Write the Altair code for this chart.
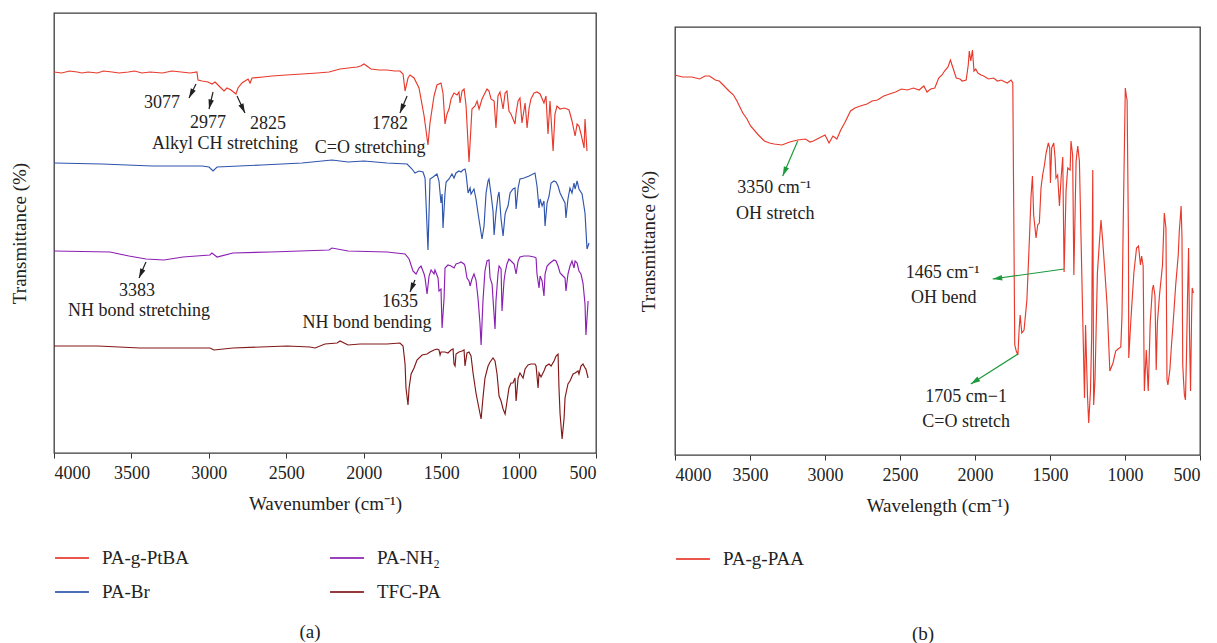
import math
import altair as alt
import pandas as pd

FONT = "Liberation Serif"
RED = "#e8392b"
BLUE = "#2f54ad"
PURPLE = "#8c1fb3"
MAROON = "#821818"
GREEN = "#1d9a3c"
INK = "#222222"

TICKS = [4000, 3500, 3000, 2500, 2000, 1500, 1000, 500]

# ---- spectra: (wavenumber cm-1, offset transmittance a.u.) ----
ptba = [(4000,381),(3950,380),(3900,382),(3850,381),(3819,380),(3780,381),(3720,380),(3680,382),
        (3625,381),(3580,380),(3520,381),(3480,382),(3432,380),(3380,381),(3300,380),(3238,382),
        (3180,381),(3120,380),(3077,381),(3070,373),(3044,372),(3005,371),(2980,369),(2960,371),
        (2928,366),(2902,362),(2883,365),(2857,363),(2825,359),(2812,365),(2786,370),(2747,374),
        (2734,370),(2721,375),(2650,376),(2592,377),(2500,378),(2398,379),(2300,380),(2224,381),
        (2153,384),(2100,385),(2043,386),(2020,387),(1998,389),(1953,384),(1900,383),(1850,383),
        (1800,382),(1766,382),(1746,379),(1733,362),(1714,375),(1701,378),(1675,375),(1643,365),
        (1610,337),(1585,308),(1572,330),(1546,357),(1527,368),(1501,370),(1488,360),(1475,329),
        (1462,339),(1449,344),(1436,354),(1417,360),(1397,358),(1385,361),(1378,350),(1365,362),
        (1352,364),(1339,347),(1320,291),(1307,327),(1301,344),(1281,347),(1268,352),(1255,344),
        (1236,354),(1204,364),(1191,362),(1178,354),(1158,352),(1146,325),(1133,357),(1120,361),
        (1100,344),(1087,360),(1075,362),(1062,342),(1049,339),(1036,334),(1023,329),(1016,340),
        (1003,352),(991,355),(978,330),(958,350),(945,325),(932,345),(920,354),(900,360),(881,361),
        (861,359),(836,350),(823,357),(810,319),(797,352),(777,302),(765,339),(752,347),(732,344),
        (706,345),(687,344),(674,343),(655,332),(635,317),(622,329),(610,327),(597,319),(577,305),
        (571,334),(558,302)]

pabr = [(4000,290),(3690,289),(3367,287),(3044,287),(2999,286),(2973,282),(2947,286),(2657,288),
        (2398,290),(2205,293),(2101,291),(1998,292),(1850,290),(1720,289),(1688,284),(1669,280),
        (1643,282),(1617,281),(1604,275),(1585,203),(1572,274),(1552,276),(1527,279),(1514,272),
        (1501,250),(1494,259),(1488,225),(1475,260),(1468,271),(1449,274),(1430,279),(1417,275),
        (1404,280),(1385,282),(1372,281),(1359,283),(1346,284),(1339,279),(1326,260),(1313,265),
        (1307,259),(1288,264),(1275,254),(1262,240),(1249,227),(1236,214),(1223,227),(1210,260),
        (1197,272),(1191,274),(1178,259),(1165,242),(1158,218),(1146,240),(1133,257),(1126,261),
        (1113,234),(1100,217),(1087,239),(1081,242),(1068,247),(1055,260),(1036,264),(1023,265),
        (1016,244),(1003,265),(991,274),(965,275),(932,277),(894,280),(881,267),(868,245),(861,254),
        (848,247),(836,252),(829,227),(816,250),(803,257),(790,270),(771,272),(758,271),(745,267),
        (732,260),(713,254),(700,250),(694,235),(681,254),(668,265),(655,260),(642,270),(635,264),
        (622,272),(610,264),(590,259),(571,240),(558,204),(545,210)]

panh2 = [(4000,202),(3638,201),(3516,197),(3406,194),(3290,193),(3167,196),(2993,198),(2980,200),
         (2947,196),(2844,200),(2599,201),(2224,203),(2205,205),(2101,202),(1850,201),(1733,199),
         (1707,194),(1682,182),(1662,179),(1643,185),(1630,187),(1610,179),(1604,175),(1591,159),
         (1578,177),(1565,183),(1546,179),(1540,183),(1520,175),(1514,162),(1501,164),(1494,125),
         (1481,155),(1475,185),(1456,188),(1436,187),(1417,185),(1404,189),(1385,190),(1372,191),
         (1352,189),(1346,187),(1333,175),(1320,172),(1313,167),(1301,174),(1288,179),(1275,173),
         (1262,155),(1249,129),(1242,108),(1230,152),(1217,182),(1204,192),(1191,193),(1184,175),
         (1171,169),(1165,154),(1152,124),(1146,152),(1133,179),(1126,187),(1113,184),(1107,142),
         (1094,172),(1087,180),(1075,189),(1062,194),(1042,191),(1029,189),(1016,179),(1003,192),
         (991,196),(965,197),(932,197),(900,196),(887,195),(881,179),(868,165),(861,177),(848,172),
         (836,157),(829,179),(816,187),(797,190),(771,193),(758,192),(745,187),(732,180),(713,177),
         (700,175),(694,162),(681,179),(668,187),(655,192),(642,185),(635,192),(622,190),(610,182),
         (597,179),(584,170),(571,149),(565,118),(551,152)]

tfcpa = [(4000,107),(3716,107),(3445,105),(2993,105),(2967,103),(2844,105),(2495,107),(2347,106),
         (2314,105),(2250,109),(2172,110),(2153,112),(2101,108),(2024,109),(1850,109),(1766,110),
         (1746,107),(1733,89),(1727,65),(1714,48),(1707,65),(1694,79),(1675,85),(1656,93),(1623,98),
         (1591,99),(1572,101),(1546,103),(1527,104),(1514,103),(1507,98),(1501,101),(1475,101),
         (1456,100),(1436,103),(1423,104),(1417,89),(1410,87),(1404,99),(1385,101),(1365,102),
         (1352,103),(1346,87),(1333,100),(1320,101),(1307,97),(1294,80),(1275,60),(1255,44),
         (1242,34),(1230,55),(1217,75),(1197,87),(1184,91),(1165,95),(1152,92),(1139,79),(1126,57),
         (1113,52),(1100,44),(1087,39),(1081,45),(1062,65),(1049,70),(1036,70),(1023,75),(1016,52),
         (1003,75),(991,80),(971,75),(958,84),(939,88),(920,89),(894,89),(887,87),(874,65),(868,80),
         (855,76),(836,82),(823,87),(803,89),(790,87),(771,92),(758,97),(745,99),(739,65),(732,39),
         (719,14),(706,35),(700,55),(681,69),(668,72),(648,79),(635,80),(616,82),(610,79),(597,87),
         (584,89),(571,85),(565,84),(551,75)]

paa = [(4000,380),(3950,378),(3888,378),(3835,376),(3800,379),(3770,379),(3731,375),(3705,374),
       (3679,370),(3640,364),(3610,360),(3587,354),(3548,342),(3520,336),(3496,329),(3444,320),
       (3404,314),(3370,312),(3339,311),(3287,310),(3235,313),(3182,315),(3130,316),(3100,313),
       (3078,314),(3039,317),(3000,320),(2973,312),(2947,319),(2921,316),(2895,325),(2869,332),
       (2830,344),(2800,347),(2765,349),(2720,351),(2686,354),(2650,355),(2608,359),(2570,361),
       (2529,363),(2490,366),(2451,365),(2410,367),(2373,365),(2341,369),(2320,363),(2295,366),
       (2268,367),(2242,377),(2220,380),(2203,384),(2180,388),(2164,395),(2151,389),(2125,377),
       (2100,376),(2085,374),(2059,375),(2045,390),(2038,404),(2028,394),(2017,405),(2007,384),
       (1995,386),(1981,382),(1960,380),(1942,379),(1910,376),(1876,377),(1850,374),(1824,375),
       (1800,373),(1785,372),(1759,375),(1748,372),(1742,250),(1735,110),(1725,104),(1714,100),
       (1706,125),(1699,140),(1688,122),(1673,125),(1654,155),(1637,217),(1626,260),(1617,279),
       (1609,240),(1593,217),(1582,230),(1571,232),(1560,267),(1549,280),(1537,290),(1526,302),
       (1511,312),(1502,307),(1497,272),(1489,307),(1475,312),(1466,297),(1460,277),(1449,280),
       (1437,249),(1426,277),(1415,298),(1406,183),(1393,264),(1382,287),(1366,285),(1360,314),
       (1349,300),(1341,180),(1326,294),(1315,309),(1304,294),(1295,230),(1281,132),(1270,57),
       (1263,130),(1250,59),(1242,32),(1230,65),(1222,120),(1215,285),(1209,50),(1200,75),
       (1184,182),(1171,212),(1160,235),(1149,215),(1135,185),(1119,149),(1101,84),(1080,92),
       (1062,104),(1046,106),(1028,108),(1020,139),(1012,230),(998,367),(990,358),(986,355),
       (977,217),(975,97),(962,132),(941,182),(923,207),(910,209),(897,190),(889,199),(879,189),
       (871,64),(858,105),(845,64),(832,132),(818,165),(811,170),(800,159),(792,85),(784,132),
       (770,160),(750,190),(738,242),(727,227),(720,75),(714,70),(701,85),(690,110),(680,130),
       (662,170),(645,200),(638,224),(630,240),(626,249),(620,217),(615,90),(610,75),(604,60),
       (597,55),(590,100),(584,152),(576,207),(570,122),(563,64),(556,140),(552,167),(544,162)]

# ---- annotations ----
left_labels = ["3077", "2977", "2825", "Alkyl CH stretching", "1782", "C=O stretching",
               "3383", "NH bond stretching", "1635", "NH bond bending"]
left_label_wn = [3303, 3005, 2618, 2896, 1830, 1959, 3464, 3451, 1766, 1979]
left_label_t = [350, 330, 329, 309, 329, 305, 162, 142, 151, 130]
# arrows: tail (wn, t) -> head (wn, t)
left_arrows = [(3083, 369, 3128, 355), (2973, 361, 2999, 344), (2818, 357, 2767, 340),
               (1720, 357, 1766, 340), (3406, 191, 3451, 175), (1669, 173, 1701, 161)]

right_labels = ["3350 cm⁻¹", "OH stretch", "1465 cm⁻¹", "OH bend", "1705 cm−1", "C=O stretch"]
right_label_wn = [3339, 3331, 2216, 2208, 2059, 2059]
right_label_t = [267, 241, 182, 157, 58, 33]
right_arrows = [(3182, 314, 3282, 279), (1406, 186, 1882, 176), (1714, 101, 2028, 71)]

SERIES_LEFT = ["PA-g-PtBA", "PA-Br", "PA-NH₂", "TFC-PA"]
COLORS_LEFT = [RED, BLUE, PURPLE, MAROON]

LW, LH = 542, 440
RW, RH = 525, 428
HEAD = "M0,0L-0.55,1.9L0.55,1.9Z"


def to_df(name, pairs):
    return pd.DataFrame({"wn": [p[0] for p in pairs], "t": [p[1] for p in pairs], "series": name})


def arrow_df(arrows, width, height, ymax):
    rows = []
    for w1, t1, w2, t2 in arrows:
        dx = -(w2 - w1) * width / 3500.0
        dy = -(t2 - t1) * height / ymax
        ang = math.degrees(math.atan2(dx, -dy)) % 360
        rows.append({"w1": w1, "t1": t1, "w2": w2, "t2": t2, "ang": ang})
    return pd.DataFrame(rows)


def xenc(field, title):
    return alt.X(f"{field}:Q",
                 scale=alt.Scale(domain=[500, 4000], reverse=True, nice=False, zero=False),
                 axis=alt.Axis(values=TICKS, format="d", title=title))


def yenc(field, ymax, pad):
    return alt.Y(f"{field}:Q", scale=alt.Scale(domain=[0, ymax], nice=False, zero=False),
                 axis=alt.Axis(labels=False, ticks=False, title="Transmittance (%)", titlePadding=pad))


def panel(df, color, xtitle, width, height, ymax, ypad, labels, lwn, lt, arrows, acolor,
          caption, cap_x, cap_y):
    lines = alt.Chart(df).mark_line(strokeWidth=1.15).encode(
        x=xenc("wn", xtitle), y=yenc("t", ymax, ypad), color=color)
    adf = arrow_df(arrows, width, height, ymax)
    rules = alt.Chart(adf).mark_rule(color=acolor, strokeWidth=1.2).encode(
        x=xenc("w1", xtitle), x2="w2:Q", y=yenc("t1", ymax, ypad), y2="t2:Q")
    heads = alt.Chart(adf).mark_point(shape=HEAD, filled=True, size=100, color=acolor,
                                      opacity=1, strokeWidth=0).encode(
        x=xenc("w2", xtitle), y=yenc("t2", ymax, ypad), angle=alt.Angle("ang:Q", scale=None))
    tdf = pd.DataFrame({"label": labels, "wn": lwn, "t": lt})
    texts = alt.Chart(tdf).mark_text(font=FONT, fontSize=18, color=INK, align="center",
                                     baseline="middle").encode(
        x=xenc("wn", xtitle), y=yenc("t", ymax, ypad), text="label:N")
    cap = alt.Chart(alt.Data(values=[{"label": caption}])).mark_text(
        font=FONT, fontSize=19, color=INK, align="center", baseline="middle").encode(
        x=alt.value(cap_x), y=alt.value(cap_y), text="label:N")
    return [lines, rules, heads, texts, cap]


left_df = pd.concat([to_df("PA-g-PtBA", ptba), to_df("PA-Br", pabr),
                     to_df("PA-NH₂", panh2), to_df("TFC-PA", tfcpa)])
right_df = to_df("PA-g-PAA", paa)

left_color = alt.Color("series:N", scale=alt.Scale(domain=SERIES_LEFT, range=COLORS_LEFT),
                       legend=alt.Legend(orient="none", legendX=0, legendY=535, columns=2, title=None))
right_color = alt.Color("series:N", scale=alt.Scale(domain=["PA-g-PAA"], range=[RED]),
                        legend=alt.Legend(orient="none", legendX=0, legendY=522, title=None))

left_layers = panel(left_df, left_color, "Wavenumber (cm⁻¹)", LW, LH, 440, 25,
                    left_labels, left_label_wn, left_label_t, left_arrows, INK,
                    "(a)", 256, 619)
right_layers = panel(right_df, right_color, "Wavelength (cm⁻¹)", RW, RH, 428, 17,
                     right_labels, right_label_wn, right_label_t, right_arrows, GREEN,
                     "(b)", 248, 607)

left = alt.layer(*left_layers).properties(width=LW, height=LH)
right = alt.layer(*right_layers).properties(width=RW, height=RH)

# empty strip that pushes panel (b) down so its frame starts lower than panel (a)
spacer = alt.Chart(alt.Data(values=[{"k": 0}])).mark_point(opacity=0, size=1).encode(
    x=alt.value(6), y=alt.value(6)).properties(width=RW, height=12, view={"stroke": "transparent"})

right_col = (alt.vconcat(spacer, right, spacing=0)
             .resolve_scale(color="independent")
             .resolve_legend(color="independent"))

chart = (
    alt.hconcat(left, right_col, spacing=40)
    .resolve_scale(x="independent", y="independent", color="independent")
    .resolve_legend(color="independent")
    .properties(padding={"left": 9, "top": 12, "right": 5, "bottom": 0}, background="white")
    .configure_view(stroke="#3c3c3c", strokeWidth=1.3)
    .configure_axis(labelFont=FONT, labelFontSize=18, labelColor=INK, titleFont=FONT,
                    titleFontSize=19, titleFontWeight="normal", titleColor=INK, grid=False,
                    domain=False, tickColor="#333333", tickSize=5, labelPadding=6, titlePadding=12)
    .configure_legend(symbolType="stroke", symbolSize=1150, symbolStrokeWidth=2,
                      labelFont=FONT, labelFontSize=19, labelColor=INK, labelOffset=12,
                      clipHeight=20, rowPadding=14, columnPadding=140, padding=0,
                      symbolOpacity=0.85, labelLimit=300)
)

chart.save("out.html", embed_options={"renderer": "svg", "actions": False})
